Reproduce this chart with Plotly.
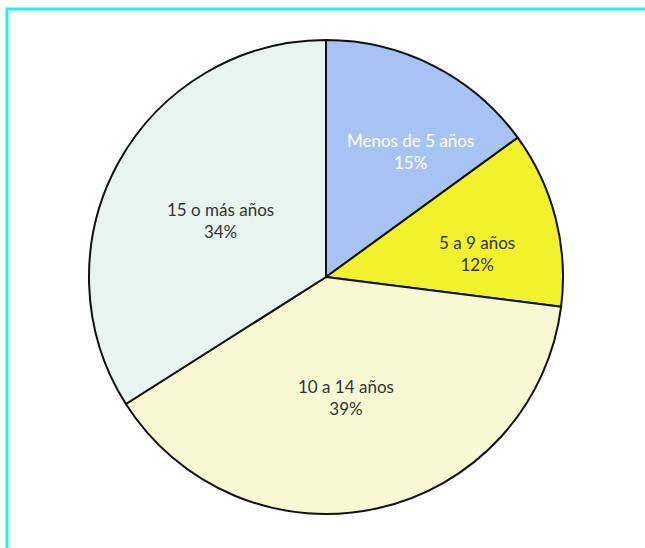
import plotly.graph_objects as go

labels = ["Menos de 5 años", "5 a 9 años", "10 a 14 años", "15 o más años"]
values = [15, 12, 39, 34]
colors = ["#a6c3f3", "#f2f22c", "#f8f8d3", "#e7f4ef"]
text_colors = ["#ffffff", "#333333", "#333333", "#333333"]

W, H = 645, 548
cx, cy, r = 326, 277, 237

# centre (pixels) of each slice's two-line label
label_xy = [(410, 151), (477, 254), (346, 398), (220, 220)]
font_family = "Lato, Open Sans, sans-serif"
font_size = 17

fig = go.Figure(go.Pie(
    labels=labels,
    values=values,
    sort=False,
    direction="clockwise",
    rotation=0,
    marker=dict(colors=colors, line=dict(color="#111111", width=2)),
    textinfo="none",
    hoverinfo="label+percent",
    domain=dict(x=[(cx - r) / W, (cx + r) / W], y=[(H - cy - r) / H, (H - cy + r) / H]),
    showlegend=False,
))

total = sum(values)
annotations = []
for lab, val, col, (px, py) in zip(labels, values, text_colors, label_xy):
    pct = f"{round(100 * val / total)}%"
    annotations.append(dict(
        x=px / W, y=1 - py / H, xref="paper", yref="paper",
        text=f"{lab}<br>{pct}", showarrow=False,
        xanchor="center", yanchor="middle", align="center",
        font=dict(family=font_family, size=font_size, color=col),
    ))

fig.update_layout(
    width=W, height=H,
    margin=dict(l=0, r=0, t=0, b=0),
    paper_bgcolor="#ffffff",
    annotations=annotations,
    shapes=[dict(
        type="rect", xref="paper", yref="paper",
        x0=7 / W, x1=1.02, y0=-0.02, y1=1 - 9 / H,
        line=dict(color="#22f0f0", width=3), fillcolor="rgba(0,0,0,0)",
        layer="below",
    )],
)

fig.write_html("out.html")
